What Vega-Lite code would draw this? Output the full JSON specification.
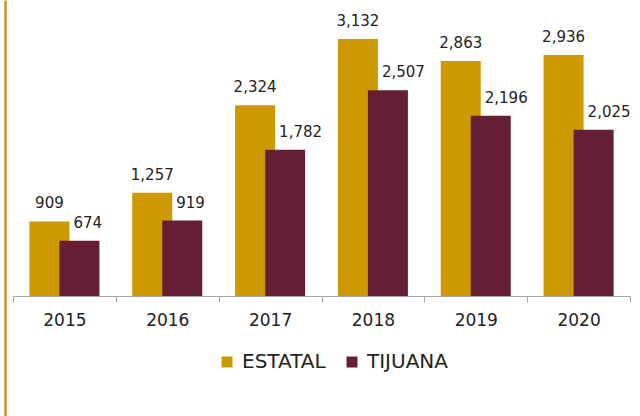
{
  "$schema": "https://vega.github.io/schema/vega-lite/v6.json",
  "width": 617,
  "height": 416,
  "autosize": {"type": "none"},
  "padding": {"left": 13, "top": 0, "right": 10, "bottom": 0},
  "background": "white",
  "config": {
    "view": {"stroke": null},
    "font": "DejaVu Sans",
    "text": {"font": "DejaVu Sans"}
  },
  "data": {
    "values": [
      {"year": "2015", "series": "ESTATAL", "value": 909},
      {"year": "2016", "series": "ESTATAL", "value": 1257},
      {"year": "2017", "series": "ESTATAL", "value": 2324},
      {"year": "2018", "series": "ESTATAL", "value": 3132},
      {"year": "2019", "series": "ESTATAL", "value": 2863},
      {"year": "2020", "series": "ESTATAL", "value": 2936},
      {"year": "2015", "series": "TIJUANA", "value": 674},
      {"year": "2016", "series": "TIJUANA", "value": 919},
      {"year": "2017", "series": "TIJUANA", "value": 1782},
      {"year": "2018", "series": "TIJUANA", "value": 2507},
      {"year": "2019", "series": "TIJUANA", "value": 2196},
      {"year": "2020", "series": "TIJUANA", "value": 2025}
    ]
  },
  "encoding": {
    "x": {
      "field": "year",
      "type": "ordinal",
      "scale": {"paddingInner": 0, "paddingOuter": 0},
      "axis": {
        "title": null,
        "labelAngle": 0,
        "tickBand": "extent",
        "offset": -120,
        "domainColor": "#a6a6a6",
        "tickColor": "#a6a6a6",
        "tickSize": 6,
        "labelFont": "DejaVu Sans",
        "labelFontSize": 17,
        "labelColor": "#222222",
        "labelPadding": 10
      }
    },
    "y": {
      "field": "value",
      "type": "quantitative",
      "scale": {"domain": [-1462, 3606], "nice": false, "zero": false},
      "axis": {
        "title": null,
        "labels": false,
        "ticks": false,
        "grid": false,
        "offset": 8,
        "domainColor": "#C4962A",
        "domainWidth": 2.5
      }
    }
  },
  "layer": [
    {
      "transform": [{"filter": "datum.series === 'ESTATAL'"}],
      "mark": {"type": "bar", "width": 40, "xOffset": -15},
      "encoding": {
        "y2": {"datum": 0},
        "color": {
          "field": "series",
          "type": "nominal",
          "scale": {"domain": ["ESTATAL", "TIJUANA"], "range": ["#CC9900", "#661E34"]},
          "legend": {
            "title": null,
            "orient": "none",
            "direction": "horizontal",
            "legendX": 204,
            "legendY": 352,
            "padding": 0,
            "symbolType": "square",
            "symbolSize": 121,
            "symbolStrokeWidth": 0,
            "labelFont": "DejaVu Sans",
            "labelFontSize": 20,
            "labelColor": "#222222",
            "labelOffset": 5,
            "columnPadding": 16,
            "labelLimit": 300
          }
        }
      }
    },
    {
      "transform": [{"filter": "datum.series === 'TIJUANA'"}],
      "mark": {"type": "bar", "width": 40, "xOffset": 15},
      "encoding": {
        "y2": {"datum": 0},
        "color": {"field": "series", "type": "nominal"}
      }
    },
    {
      "transform": [{"filter": "datum.series === 'ESTATAL'"}],
      "mark": {"type": "text", "xOffset": -15, "dy": -13, "align": "center", "baseline": "alphabetic", "fontSize": 15, "color": "#222222"},
      "encoding": {
        "text": {"field": "value", "type": "quantitative", "format": ","}
      }
    },
    {
      "transform": [{"filter": "datum.series === 'TIJUANA'"}],
      "mark": {"type": "text", "xOffset": 9, "dy": -13, "align": "left", "baseline": "alphabetic", "fontSize": 15, "color": "#222222"},
      "encoding": {
        "text": {"field": "value", "type": "quantitative", "format": ","}
      }
    }
  ]
}
